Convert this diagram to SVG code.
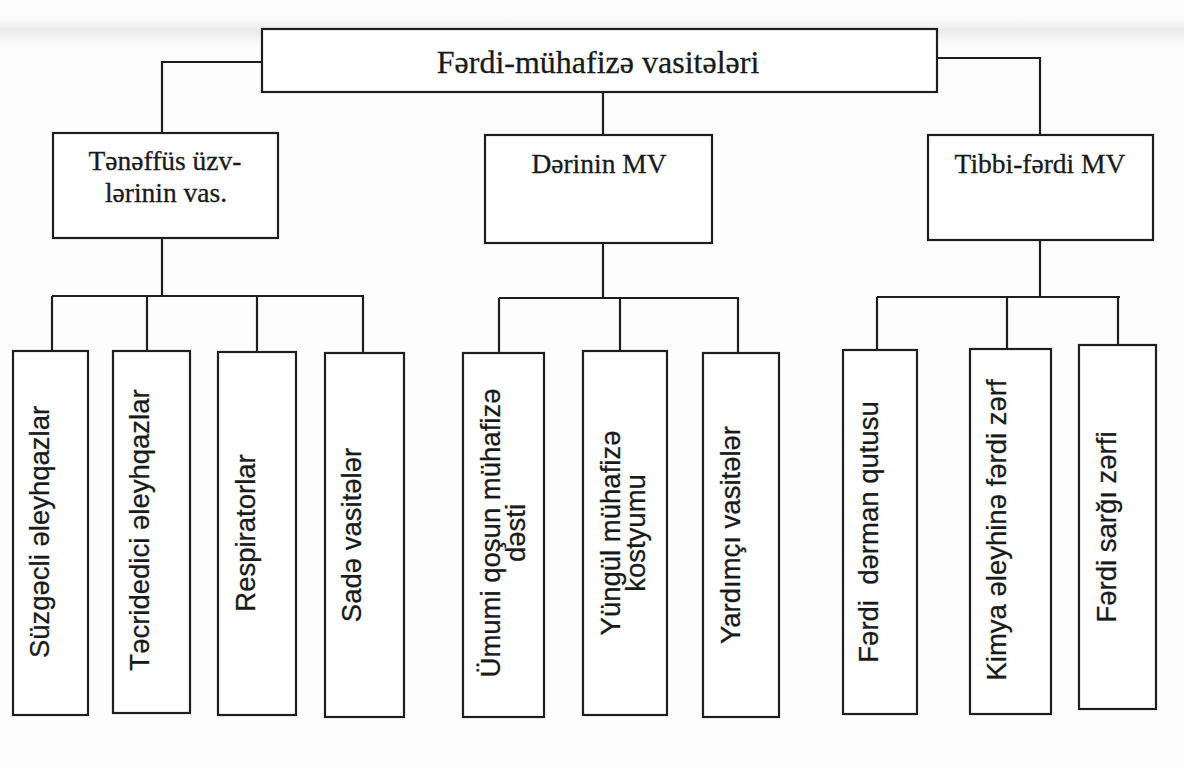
<svg xmlns="http://www.w3.org/2000/svg" width="1184" height="769" viewBox="0 0 1184 769">
<defs>
<linearGradient id="scan" x1="0" y1="0" x2="0" y2="1">
<stop offset="0" stop-color="#ffffff" stop-opacity="0"/>
<stop offset="0.45" stop-color="#d8d8d8" stop-opacity="0.55"/>
<stop offset="1" stop-color="#ffffff" stop-opacity="0"/>
</linearGradient>
<style>
.box{fill:#ffffff;stroke:#1e1e1e;stroke-width:2.2}
.ln{fill:none;stroke:#1e1e1e;stroke-width:2.2}
.hd{font-family:"Liberation Serif","Times New Roman",serif;fill:#1a1a1a;text-anchor:middle;stroke:#1a1a1a;stroke-width:0.3}
.vt{font-family:"Liberation Sans",Arial,sans-serif;font-size:27.5px;fill:#1a1a1a;text-anchor:middle;stroke:#1a1a1a;stroke-width:0.3}
</style>
</defs>
<rect width="1184" height="769" fill="#fdfdfd"/>
<rect x="0" y="12" width="1184" height="40" fill="url(#scan)"/>

<g id="connectors">
<polyline class="ln" points="262,62 162,62 162,133"/>
<line class="ln" x1="603" y1="92" x2="603" y2="135"/>
<polyline class="ln" points="937,58 1040,58 1040,135"/>

<line class="ln" x1="162" y1="238" x2="162" y2="296"/>
<line class="ln" x1="52" y1="296" x2="364" y2="296"/>
<line class="ln" x1="52" y1="296" x2="52" y2="351"/>
<line class="ln" x1="147" y1="296" x2="147" y2="351"/>
<line class="ln" x1="257" y1="296" x2="257" y2="352"/>
<line class="ln" x1="363" y1="296" x2="363" y2="353"/>

<line class="ln" x1="603" y1="243" x2="603" y2="298"/>
<line class="ln" x1="499" y1="298" x2="739" y2="298"/>
<line class="ln" x1="499" y1="298" x2="499" y2="353"/>
<line class="ln" x1="620" y1="298" x2="620" y2="351"/>
<line class="ln" x1="738" y1="298" x2="738" y2="353"/>

<line class="ln" x1="1040" y1="240" x2="1040" y2="297"/>
<line class="ln" x1="877" y1="297" x2="1120" y2="297"/>
<line class="ln" x1="877" y1="297" x2="877" y2="350"/>
<line class="ln" x1="1007" y1="297" x2="1007" y2="349"/>
<line class="ln" x1="1118" y1="297" x2="1118" y2="345"/>
</g>

<g id="root">
<rect class="box" x="262" y="29" width="675" height="63"/>
<text class="hd" x="598" y="73" font-size="32">Fərdi-mühafizə vasitələri</text>
</g>

<g id="tenefus">
<rect class="box" x="53" y="133" width="225" height="105"/>
<text class="hd" x="165" y="170" font-size="27.5">Tənəffüs üzv-</text>
<text class="hd" x="166" y="202" font-size="27.5">lərinin vas.</text>
</g>

<g id="derinin">
<rect class="box" x="485" y="135" width="227" height="108"/>
<text class="hd" x="599" y="173" font-size="27.5">Dərinin MV</text>
</g>

<g id="tibbi">
<rect class="box" x="928" y="135" width="225" height="105"/>
<text class="hd" x="1040" y="173" font-size="27.5">Tibbi-fərdi MV</text>
</g>

<g id="suzgecli">
<rect class="box" x="13" y="351" width="75" height="364"/>
<text class="vt" transform="translate(49,532) rotate(-90)">Süzgəcli əleyhqazlar</text>
</g>
<g id="tecridedici">
<rect class="box" x="113" y="351" width="77" height="362"/>
<text class="vt" transform="translate(149,530) rotate(-90)">Təcridedici əleyhqazlar</text>
</g>
<g id="respiratorlar">
<rect class="box" x="218" y="352" width="78" height="363"/>
<text class="vt" transform="translate(255,533) rotate(-90)">Respiratorlar</text>
</g>
<g id="sade">
<rect class="box" x="325" y="353" width="79" height="364"/>
<text class="vt" transform="translate(361,535) rotate(-90)">Sadə vasitələr</text>
</g>

<g id="umumi">
<rect class="box" x="463" y="353" width="81" height="364"/>
<text class="vt" transform="translate(500,533) rotate(-90)">Ümumi qoşun mühafizə</text>
<text class="vt" transform="translate(525,533) rotate(-90)">dəsti</text>
</g>
<g id="yungul">
<rect class="box" x="583" y="351" width="84" height="364"/>
<text class="vt" transform="translate(620,533) rotate(-90)">Yüngül mühafizə</text>
<text class="vt" transform="translate(645,533) rotate(-90)">kostyumu</text>
</g>
<g id="yardimci">
<rect class="box" x="703" y="353" width="76" height="364"/>
<text class="vt" transform="translate(740,535) rotate(-90)">Yardımçı vasitələr</text>
</g>

<g id="derman">
<rect class="box" x="843" y="350" width="74" height="364"/>
<text class="vt" transform="translate(878,532) rotate(-90)" xml:space="preserve">Fərdi  dərman qutusu</text>
</g>
<g id="kimya">
<rect class="box" x="970" y="349" width="81" height="365"/>
<text class="vt" transform="translate(1006,530) rotate(-90)">Kimya əleyhinə fərdi zərf</text>
</g>
<g id="sargi">
<rect class="box" x="1079" y="345" width="77" height="364"/>
<text class="vt" transform="translate(1116,527) rotate(-90)">Fərdi sarğı zərfi</text>
</g>
</svg>
